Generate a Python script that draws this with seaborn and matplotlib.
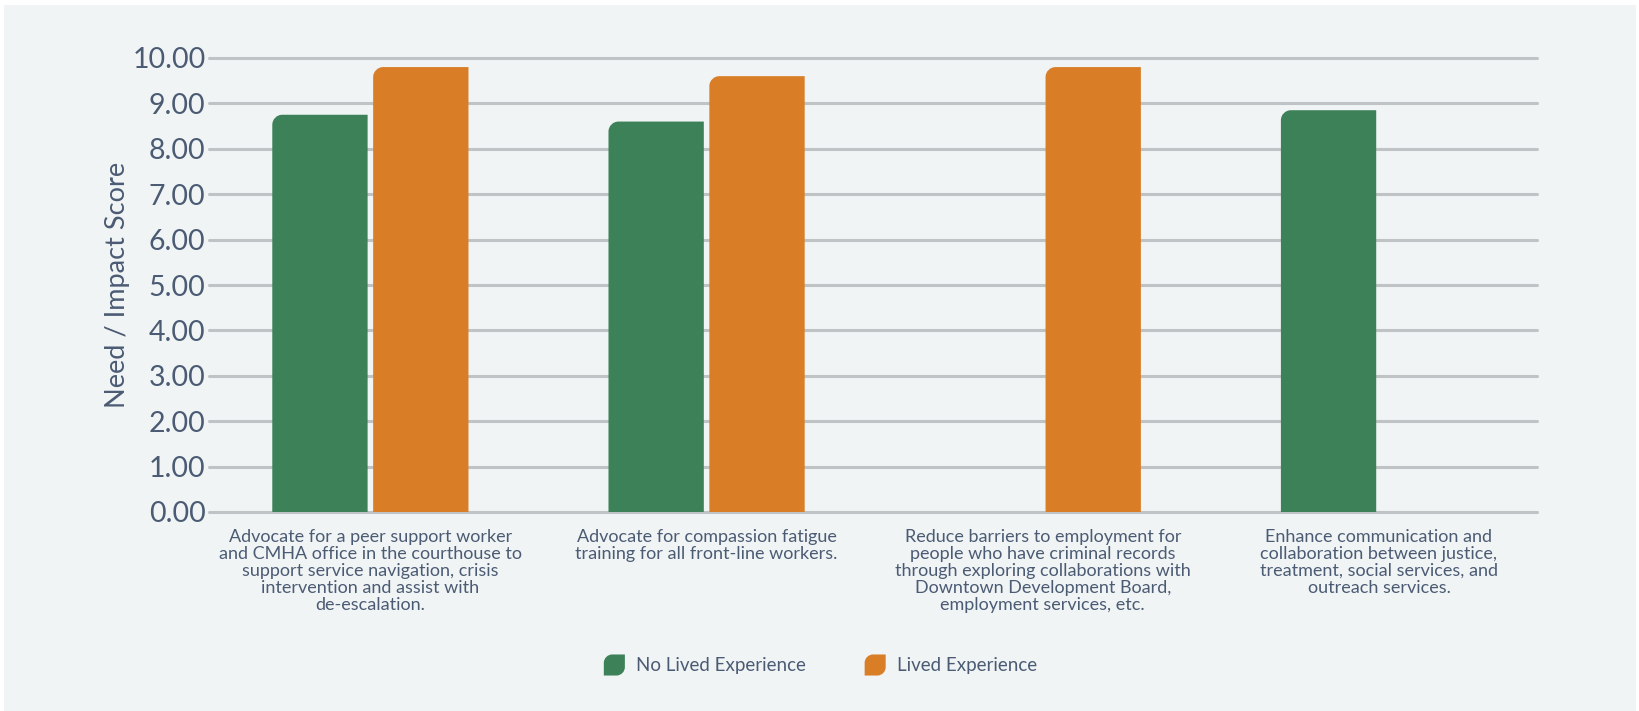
import numpy as np
import pandas as pd
import matplotlib
matplotlib.use("Agg")
import matplotlib.pyplot as plt
import seaborn as sns
from matplotlib.path import Path
from matplotlib.patches import PathPatch, Rectangle
from matplotlib.legend_handler import HandlerPatch

# ---- data ----
categories = [
    "Advocate for a peer support worker\nand CMHA office in the courthouse to\nsupport service navigation, crisis\nintervention and assist with\nde-escalation.",
    "Advocate for compassion fatigue\ntraining for all front-line workers.",
    "Reduce barriers to employment for\npeople who have criminal records\nthrough exploring collaborations with\nDowntown Development Board,\nemployment services, etc.",
    "Enhance communication and\ncollaboration between justice,\ntreatment, social services, and\noutreach services.",
]
series_names = ["No Lived Experience", "Lived Experience"]
no_lived = [8.75, 8.60, np.nan, 8.85]
lived = [9.80, 9.60, 9.80, np.nan]
y_ticks = [0, 1, 2, 3, 4, 5, 6, 7, 8, 9, 10]

GREEN = "#3c8157"
ORANGE = "#d97d27"
TEXT = "#4b5b73"
GRID = "#c0c3c6"
PANEL = "#f0f4f5"

df = pd.DataFrame({
    "category": categories * 2,
    "group": [series_names[0]] * 4 + [series_names[1]] * 4,
    "score": no_lived + lived,
}).dropna()

sns.set_theme(style="white")
plt.rcParams["font.family"] = ["Lato", "DejaVu Sans"]

fig = plt.figure(figsize=(16.39, 7.11), dpi=100)
fig.patch.set_facecolor("white")
# light panel behind the chart
fig.patches.append(Rectangle((4 / 1639, 0), 1632 / 1639, 706 / 711,
                             transform=fig.transFigure, facecolor=PANEL,
                             edgecolor="none", zorder=-10))

ax = fig.add_axes([209 / 1639, 1 - 512 / 711, 1328 / 1639, 454 / 711])
ax.set_facecolor("none")

sns.barplot(data=df, x="category", y="score", hue="group",
            order=categories, hue_order=series_names,
            palette=[GREEN, ORANGE], saturation=1, width=0.6, gap=0.055,
            linewidth=0, ax=ax, legend=False, zorder=3)

ax.set_xlim(-0.48, 3.47)
ax.set_ylim(0, 10)
ax.set_yticks(y_ticks)
ax.set_yticklabels([f"{v:.2f}" for v in y_ticks])
for v in y_ticks:
    ax.axhline(v, color=GRID, lw=2.2, zorder=1, clip_on=False)

for s in ax.spines.values():
    s.set_visible(False)
ax.tick_params(axis="y", length=0, pad=2.5, labelsize=20.5, labelcolor=TEXT)
ax.tick_params(axis="x", length=0, pad=12, labelsize=13, labelcolor=TEXT)
for lbl in ax.get_xticklabels():
    lbl.set_linespacing(1.08)
    lbl.set_ha("center")
ax.set_xlabel("")
ax.set_ylabel("Need / Impact Score", fontsize=19.5, color=TEXT, labelpad=2)

# round the top-left corner of every bar
fig.canvas.draw()
r_px = 10.0
p0 = ax.transData.transform((0, 0))
p1 = ax.transData.transform((1, 1))
px_x, px_y = p1[0] - p0[0], p1[1] - p0[1]
rx, ry = r_px / px_x, r_px / px_y
k = 0.5523
bars = [p for p in ax.patches if isinstance(p, Rectangle)]
for b in bars:
    x0, y0 = b.get_x(), b.get_y()
    w, h = b.get_width(), b.get_height()
    if not np.isfinite(h) or h <= 0:
        continue
    verts = [
        (x0, y0), (x0 + w, y0), (x0 + w, y0 + h), (x0 + rx, y0 + h),
        (x0 + rx * (1 - k), y0 + h), (x0, y0 + h - ry * (1 - k)), (x0, y0 + h - ry),
        (x0, y0),
    ]
    codes = [Path.MOVETO, Path.LINETO, Path.LINETO, Path.LINETO,
             Path.CURVE4, Path.CURVE4, Path.CURVE4, Path.CLOSEPOLY]
    ax.add_patch(PathPatch(Path(verts, codes), facecolor=b.get_facecolor(),
                           edgecolor="none", zorder=3))
    b.set_visible(False)


def leaf(legend, orig_handle, xdescent, ydescent, width, height, fontsize):
    x0, y0 = -xdescent, -ydescent
    s = min(width, height)
    x0 += (width - s) / 2
    r = s * 0.4
    verts = [
        (x0 + r, y0 + s), (x0 + s, y0 + s), (x0 + s, y0 + r),
        (x0 + s, y0 + r * (1 - k)), (x0 + s - r * (1 - k), y0), (x0 + s - r, y0),
        (x0, y0), (x0, y0 + s - r),
        (x0, y0 + s - r * (1 - k)), (x0 + r * (1 - k), y0 + s), (x0 + r, y0 + s),
        (x0 + r, y0 + s),
    ]
    codes = [Path.MOVETO, Path.LINETO, Path.LINETO,
             Path.CURVE4, Path.CURVE4, Path.CURVE4,
             Path.LINETO, Path.LINETO,
             Path.CURVE4, Path.CURVE4, Path.CURVE4, Path.CLOSEPOLY]
    return PathPatch(Path(verts, codes))


handles = [Rectangle((0, 0), 1, 1, facecolor=c, edgecolor="none") for c in (GREEN, ORANGE)]
fig.legend(handles, series_names, loc="center", bbox_to_anchor=(0.5, 1 - 665 / 711),
           ncol=2, frameon=False, fontsize=13.5, labelcolor=TEXT,
           handlelength=1.35, handleheight=1.35, handletextpad=0.5, columnspacing=3.0,
           handler_map={Rectangle: HandlerPatch(patch_func=leaf)})

fig.savefig("out.png", dpi=100, facecolor=fig.get_facecolor())
